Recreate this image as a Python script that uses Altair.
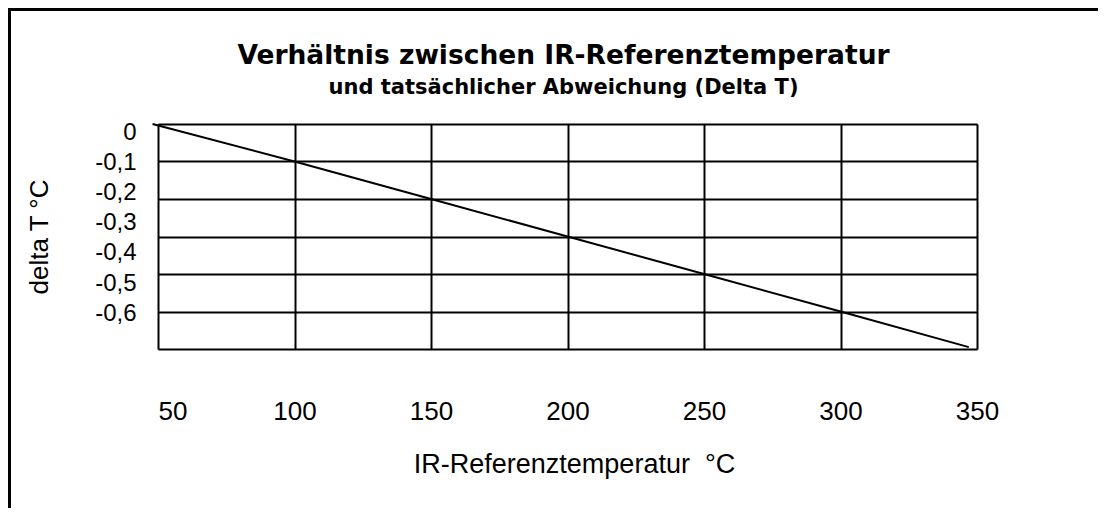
import altair as alt
import pandas as pd

# --- data ---
temperature = [48, 100, 150, 200, 250, 300, 347]
delta_t = [0.0, -0.1, -0.2, -0.3, -0.4, -0.5, -0.595]

x_ticks = [50, 100, 150, 200, 250, 300, 350]
y_ticks = [0.0, -0.1, -0.2, -0.3, -0.4, -0.5, -0.6]

title_line1 = "Verhältnis zwischen IR-Referenztemperatur"
title_line2 = "und tatsächlicher Abweichung (Delta T)"
x_title = "IR-Referenztemperatur\u00a0 °C"
y_title = "delta T °C"

# label positions in the reference are spaced more tightly than the grid
y_label_domain = [-0.7185, 0.0265]

line_df = pd.DataFrame({"temp": temperature, "delta": delta_t})
label_df = pd.DataFrame({"tick": y_ticks})

LABEL_FONT = "Liberation Sans"

x_enc = alt.X(
    "temp:Q",
    scale=alt.Scale(domain=[50, 350], nice=False, zero=False),
    axis=alt.Axis(
        values=x_ticks,
        grid=True,
        gridColor="black",
        gridWidth=2,
        gridOpacity=1,
        domain=False,
        ticks=False,
        tickSize=0,
        labelFont=LABEL_FONT,
        labelFontSize=26,
        labelColor="black",
        labelPadding=49,
        labelFlush=False,
        labelOverlap=False,
        labelAlign=alt.condition("datum.value == 50", alt.value("left"), alt.value("center")),
        title=x_title,
        titleFont=LABEL_FONT,
        titleFontSize=27,
        titleFontWeight="normal",
        titleColor="black",
        titlePadding=27,
        titleX=416,
    ),
)

line = (
    alt.Chart(line_df)
    .mark_line(color="black", strokeWidth=2, clip=False)
    .encode(
        x=x_enc,
        y=alt.Y(
            "delta:Q",
            scale=alt.Scale(domain=[-0.6, 0], nice=False, zero=False),
            axis=alt.Axis(
                orient="right",
                values=y_ticks,
                grid=True,
                gridColor="black",
                gridWidth=2,
                gridOpacity=1,
                labels=False,
                ticks=False,
                tickSize=0,
                domain=False,
                title=None,
            ),
        ),
    )
)

labels = (
    alt.Chart(label_df)
    .mark_point(opacity=0)
    .encode(
        y=alt.Y(
            "tick:Q",
            scale=alt.Scale(domain=y_label_domain, nice=False, zero=False),
            axis=alt.Axis(
                orient="left",
                values=y_ticks,
                grid=False,
                domain=False,
                ticks=False,
                tickSize=0,
                labelExpr="datum.value == 0 ? '0' : '-0,' + round(-datum.value * 10)",
                labelFont=LABEL_FONT,
                labelFontSize=24,
                labelColor="black",
                labelPadding=22,
                labelOverlap=False,
                labelBaseline="middle",
                title=y_title,
                titleFont=LABEL_FONT,
                titleFontSize=26,
                titleFontWeight="normal",
                titleColor="black",
                titlePadding=42,
            ),
        )
    )
)

# outer frame of the chart (only top and left edges are visible in the reference)
frame_top = (
    alt.Chart(alt.Data(values=[{"f": 1}]))
    .mark_rule(color="black", strokeWidth=3, clip=False)
    .encode(x=alt.value(-150), x2=alt.value(940), y=alt.value(-114.5))
)
frame_left = (
    alt.Chart(alt.Data(values=[{"f": 1}]))
    .mark_rule(color="black", strokeWidth=3, clip=False)
    .encode(x=alt.value(-148.5), y=alt.value(-116), y2=alt.value(384))
)

chart = (
    alt.layer(frame_top, frame_left, line, labels)
    .resolve_scale(y="independent")
    .resolve_axis(y="independent")
    .properties(
        width=819,
        height=225,
        autosize=alt.AutoSizeParams(type="none"),
        padding={"left": 150, "top": 116, "right": 128, "bottom": 166},
        title=alt.TitleParams(
            text=title_line1,
            subtitle=title_line2,
            font="DejaVu Sans",
            fontSize=26.5,
            fontWeight="bold",
            color="black",
            subtitleFont="DejaVu Sans",
            subtitleFontSize=21,
            subtitleFontWeight="bold",
            subtitleColor="black",
            subtitlePadding=7,
            anchor="middle",
            frame="group",
            offset=-91,
            dx=-4,
        ),
    )
    .configure_view(stroke="black", strokeWidth=2.5)
    .configure(background="white")
)

chart.save("out.html", embed_options={"renderer": "svg", "actions": False})
